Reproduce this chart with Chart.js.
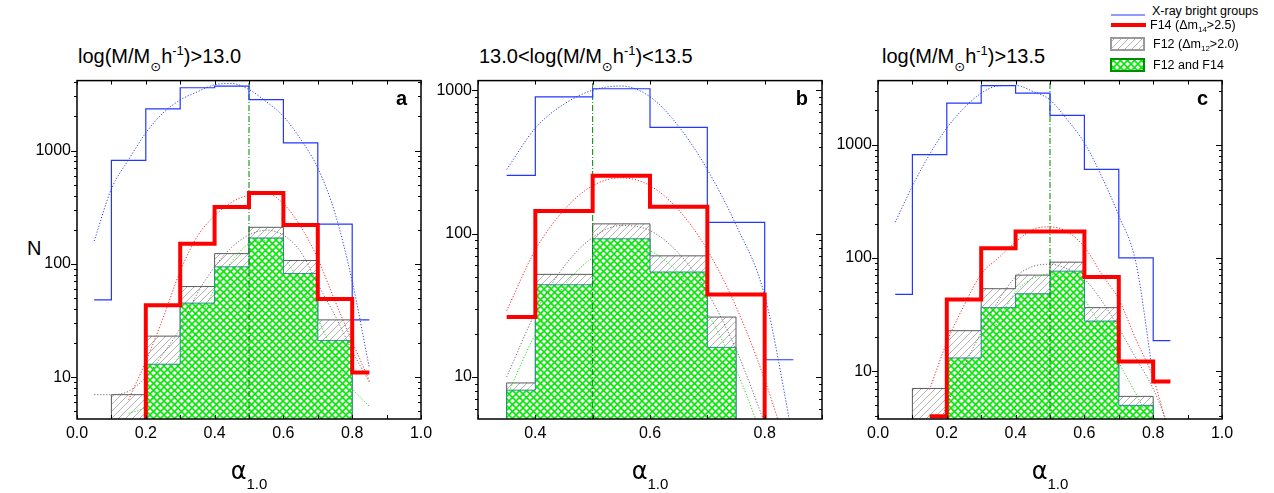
<!DOCTYPE html>
<html>
<head>
<meta charset="utf-8">
<script src="https://cdn.jsdelivr.net/npm/chart.js@4.4.1/dist/chart.umd.min.js"></script>
<style>
  body { margin: 0; width: 1274px; height: 493px; background: #fff; position: relative; overflow: hidden;
         font-family: "Liberation Sans", Arial, sans-serif; color: #000; }
  .panel { position: absolute; top: 65px; }
  .title { position: absolute; top: 46px; font-size: 20px; line-height: 20px; white-space: nowrap; }
  .title .sun { font-family: "DejaVu Sans", sans-serif; font-size: 13px; vertical-align: -8px; line-height: 0; }
  .title sup { font-size: 13px; vertical-align: 8px; line-height: 0; }
  .xlab { position: absolute; top: 458px; width: 344px; text-align: center; white-space: nowrap; line-height: 26px; }
  .xlab .al { font-family: "DejaVu Sans", sans-serif; font-size: 24px; }
  .xlab sub { font-size: 15px; vertical-align: -10px; line-height: 0; }
  .ylab { position: absolute; left: 27px; top: 236px; font-size: 20px; line-height: 24px; }
  .legend { position: absolute; left: 1110px; top: 0; font-size: 12.5px; }
  .legend .row { position: absolute; left: 0; height: 16px; white-space: nowrap; }
  .legend canvas { position: absolute; left: 0; }
  .legend span.t { position: absolute; line-height: 16px; }
  .legend sub { font-size: 8px; vertical-align: -3px; line-height: 0; }
</style>
</head>
<body>

<div class="title" style="left:78px">log(M/M<span class="sun">&#8857;</span>h<sup>-1</sup>)&gt;13.0</div>
<div class="title" style="left:479px">13.0&lt;log(M/M<span class="sun">&#8857;</span>h<sup>-1</sup>)&lt;13.5</div>
<div class="title" style="left:882px">log(M/M<span class="sun">&#8857;</span>h<sup>-1</sup>)&gt;13.5</div>

<div class="ylab">N</div>

<canvas id="panelA" class="panel" style="left:17px" width="424" height="394"></canvas>
<canvas id="panelB" class="panel" style="left:418px" width="424" height="394"></canvas>
<canvas id="panelC" class="panel" style="left:818px" width="424" height="394"></canvas>

<div class="xlab" style="left:77px"><span class="al">&alpha;</span><sub>1.0</sub></div>
<div class="xlab" style="left:478px"><span class="al">&alpha;</span><sub>1.0</sub></div>
<div class="xlab" style="left:878px"><span class="al">&alpha;</span><sub>1.0</sub></div>

<div class="legend">
  <div class="row" style="top:3px"><canvas id="swXray" width="36" height="16"></canvas><span class="t" style="left:42px">X-ray bright groups</span></div>
  <div class="row" style="top:17px"><canvas id="swF14" width="36" height="16"></canvas><span class="t" style="left:40px">F14 (&Delta;m<sub>14</sub>&gt;2.5)</span></div>
  <div class="row" style="top:36px"><canvas id="swF12" width="36" height="16"></canvas><span class="t" style="left:43px">F12 (&Delta;m<sub>12</sub>&gt;2.0)</span></div>
  <div class="row" style="top:57px"><canvas id="swBoth" width="36" height="16"></canvas><span class="t" style="left:43px">F12 and F14</span></div>
</div>

<script>
// bin centres (alpha_1.0); panels a and c share the full range
const binsAC = [0.05, 0.15, 0.25, 0.35, 0.45, 0.55, 0.65, 0.75, 0.85];
const binsB = [0.35, 0.45, 0.55, 0.65, 0.75, 0.85];

// counts per bin (1 = count below the plotted range, null = no bin)
const xrayA = [48, 818, 2330, 3580, 3700, 2810, 1167, 224, 32];
const f14A  = [null, 3, 43, 150, 317, 422, 220, 49, 11];
const f12A  = [1, 7, 23, 63, 123, 210, 107, 32, 1];
const bothA = [null, 1, 13, 45, 94, 169, 82, 21, 1];

const xrayB = [255, 900, 1024, 550, 120, 13.2];
const f14B  = [26.2, 144, 253, 154, 37.6, 1];
const f12B  = [9.1, 52, 117, 70, 26.2, null];
const bothB = [8.1, 44, 92, 54, 16.1, null];

const xrayC = [47.7, 817, 2320, 3320, 2840, 1811, 604, 100, 18.6];
const f14C  = [null, 4.0, 42.9, 122, 171, 171, 67.8, 12.2, 8.1];
const f12C  = [1, 7.05, 22.8, 53.5, 70.5, 91.7, 36.4, 6.0, 1];
const bothC = [null, 1, 13.1, 36.4, 48.3, 76.4, 27.7, 5.0, 1];

// fitted curves, sampled every 0.05
const fitXAC = [0.05, 0.10, 0.15, 0.20, 0.25, 0.30, 0.35, 0.40, 0.45, 0.50, 0.55, 0.60, 0.65, 0.70, 0.75, 0.80, 0.85];
const fitXB = [0.35, 0.40, 0.45, 0.50, 0.55, 0.60, 0.65, 0.70, 0.75, 0.80, 0.85];

const fitXrayA = [159, 458, 830, 1430, 2140, 2790, 3300, 3800, 3900, 3450, 2700, 2000, 1260, 700, 280, 70, 12];
const fitF14A  = [null, null, 6.3, 13.8, 33, 86, 175, 265, 350, 405, 420, 339, 214, 111, 47, 20.6, 9.3];
const fitF12A  = [7, 7, 7.5, 10, 16, 27, 55, 94, 140, 180, 198, 179, 128, 66, 35, 17, 9];
const fitBothA = [null, null, 4.8, 5.5, 9, 16, 30, 60, 105, 150, 160, 115, 66, 33, 15, 8, 5.5];

const fitXrayB = [280, 545, 800, 1000, 1070, 900, 560, 280, 115, 37, 3.6];
const fitF14B  = [29, 77, 146, 216, 245, 216, 146, 77, 31, 9.6, 2.3];
const fitF12B  = [10, 28, 59, 94, 114, 105, 73, 39, 15.6, 4.8, null];
const fitBothB = [7.3, 20, 43, 68, 83, 76, 53, 28, 11.3, 3.5, null];

const fitXrayC = [206, 431, 820, 1400, 2100, 2840, 3300, 3330, 2950, 2480, 1660, 1035, 525, 236, 90, 9, null];
const fitF14C  = [null, null, 6.9, 18, 38, 72, 100, 138, 178, 188, 170, 125, 72, 43, 19, 8.7, 2.5];
const fitF12C  = [null, null, 2, 5, 11, 22, 42, 68, 84, 88, 80, 65, 42, 24, 13, 7, 3];
const fitBothC = [null, null, null, 3.6, 7, 14, 28, 50, 66, 72, 64, 43, 24, 12, 6.3, 3.2, null];

// axis ranges and labelled ticks
const xRangeAC = [0, 1];
const xRangeB = [0.3, 0.9];
const xTicksAC = [0, 0.2, 0.4, 0.6, 0.8, 1.0];
const xTicksB = [0.4, 0.6, 0.8];
const yRangeA = [4.27, 4140];
const yRangeB = [5.1, 1167];
const yRangeC = [3.79, 3670];
const yTicks = [10, 100, 1000];
const refAlpha = 0.5;

const FLOOR = 0.1;
const FONT = '"Liberation Sans", Arial, sans-serif';
Chart.defaults.font.family = FONT;
Chart.defaults.color = '#000';

const hatch = (size, color, width, cross) => {
  const c = document.createElement('canvas');
  c.width = c.height = size;
  const g = c.getContext('2d');
  g.fillStyle = '#fff';
  g.fillRect(0, 0, size, size);
  g.strokeStyle = color;
  g.lineWidth = width;
  const seg = (x0, y0, x1, y1) => { g.beginPath(); g.moveTo(x0, y0); g.lineTo(x1, y1); g.stroke(); };
  for (const o of [-size, 0, size]) {
    seg(o, size, o + size, 0);
    if (cross) seg(o, 0, o + size, size);
  }
  return g.createPattern(c, 'repeat');
};

const grayHatch = hatch(7, '#b5b5b5', 1, false);
const greenHatch = hatch(7, 'rgb(10,232,10)', 1.6, true);

const toPoints = (xs, ys) => xs.map((x, i) => ({ x, y: ys[i] })).filter(p => p.y !== null);

// filled histograms get closed down to the axis at both ends
const closedPoints = (xs, ys) => {
  const pts = toPoints(xs, ys);
  return [{ x: pts[0].x, y: FLOOR }, ...pts, { x: pts[pts.length - 1].x, y: FLOOR }];
};

const frameTicks = {
  id: 'frameTicks',
  afterDatasetsDraw(chart) {
    const { ctx, chartArea: a, scales: { x, y } } = chart;
    const seg = (x0, y0, x1, y1) => { ctx.beginPath(); ctx.moveTo(x0, y0); ctx.lineTo(x1, y1); ctx.stroke(); };
    ctx.save();
    ctx.strokeStyle = '#000';
    ctx.lineWidth = 1;
    for (let i = Math.ceil(x.min * 10 - 1e-6); i <= Math.floor(x.max * 10 + 1e-6); i++) {
      const px = Math.round(x.getPixelForValue(i / 10)) + 0.5;
      seg(px, a.bottom, px, a.bottom - 4);
      seg(px, a.top, px, a.top + 4);
    }
    for (let d = Math.floor(Math.log10(y.min)); d <= Math.ceil(Math.log10(y.max)); d++) {
      for (let m = 1; m < 10; m++) {
        const v = m * Math.pow(10, d);
        if (v < y.min || v > y.max) continue;
        const py = Math.round(y.getPixelForValue(v)) + 0.5;
        const len = m === 1 ? 6 : 3;
        seg(a.left - len, py, a.left, py);
        seg(a.right, py, a.right - len, py);
      }
    }
    ctx.lineWidth = 1.5;
    ctx.strokeRect(a.left, a.top, a.right - a.left, a.bottom - a.top);
    ctx.restore();
  }
};

const stepLine = (data, color, width, order) => ({
  data, order, borderColor: color, borderWidth: width, stepped: 'middle',
  pointRadius: 0, fill: false, clip: 0
});

const stepFill = (data, edge, pattern, order) => ({
  data, order, borderColor: edge, borderWidth: 1, stepped: 'middle',
  backgroundColor: pattern, fill: 'start', pointRadius: 0, clip: 0
});

const fitLine = (data, color) => ({
  data, order: 5, borderColor: color, borderWidth: 1, borderDash: [1.2, 1.8],
  cubicInterpolationMode: 'monotone', pointRadius: 0, fill: false, clip: 0
});

function drawPanel(id, cfg) {
  const [yMin, yMax] = cfg.yRange;
  new Chart(document.getElementById(id), {
    type: 'line',
    data: {
      datasets: [
        stepFill(closedPoints(cfg.bins, cfg.f12), '#5a5a5a', grayHatch, 7),
        stepFill(closedPoints(cfg.bins, cfg.both), 'rgb(40,140,140)', greenHatch, 6),
        fitLine(toPoints(cfg.fitX, cfg.fitF12), 'rgb(110,110,110)'),
        fitLine(toPoints(cfg.fitX, cfg.fitBoth), 'rgb(30,220,30)'),
        fitLine(toPoints(cfg.fitX, cfg.fitF14), 'rgb(255,40,40)'),
        fitLine(toPoints(cfg.fitX, cfg.fitXray), 'rgb(40,60,255)'),
        {
          data: [{ x: refAlpha, y: yMin }, { x: refAlpha, y: yMax }], order: 4,
          borderColor: 'rgb(0,128,0)', borderWidth: 1, borderDash: [6, 2, 1, 2],
          pointRadius: 0, fill: false, clip: 0
        },
        stepLine(toPoints(cfg.bins, cfg.xray), 'rgb(35,55,255)', 1.2, 2),
        stepLine(toPoints(cfg.bins, cfg.f14), '#ff0000', 4, 1)
      ]
    },
    options: {
      responsive: false,
      animation: false,
      layout: { padding: { top: 12, right: 20, left: 0, bottom: 0 } },
      plugins: { legend: { display: false }, tooltip: { enabled: false } },
      scales: {
        x: {
          type: 'linear', min: cfg.xRange[0], max: cfg.xRange[1],
          grid: { display: false, drawTicks: false }, border: { display: false },
          afterBuildTicks: s => { s.ticks = cfg.xTicks.map(v => ({ value: v })); },
          afterFit: s => { s.height = 40; },
          ticks: { autoSkip: false, maxRotation: 0, padding: 5, font: { size: 16 }, callback: v => v.toFixed(1) }
        },
        y: {
          type: 'logarithmic', min: yMin, max: yMax,
          grid: { display: false, drawTicks: false }, border: { display: false },
          afterBuildTicks: s => { s.ticks = yTicks.map(v => ({ value: v })); },
          afterFit: s => { s.width = 60; },
          ticks: { autoSkip: false, padding: 6, font: { size: 16 }, callback: v => String(v) }
        }
      }
    },
    plugins: [frameTicks]
  });
}

drawPanel('panelA', {
  bins: binsAC, xray: xrayA, f14: f14A, f12: f12A, both: bothA,
  fitX: fitXAC, fitXray: fitXrayA, fitF14: fitF14A, fitF12: fitF12A, fitBoth: fitBothA,
  xRange: xRangeAC, xTicks: xTicksAC, yRange: yRangeA
});
drawPanel('panelB', {
  bins: binsB, xray: xrayB, f14: f14B, f12: f12B, both: bothB,
  fitX: fitXB, fitXray: fitXrayB, fitF14: fitF14B, fitF12: fitF12B, fitBoth: fitBothB,
  xRange: xRangeB, xTicks: xTicksB, yRange: yRangeB
});
drawPanel('panelC', {
  bins: binsAC, xray: xrayC, f14: f14C, f12: f12C, both: bothC,
  fitX: fitXAC, fitXray: fitXrayC, fitF14: fitF14C, fitF12: fitF12C, fitBoth: fitBothC,
  xRange: xRangeAC, xTicks: xTicksAC, yRange: yRangeC
});

// panel letters
[['panelA', 'a'], ['panelB', 'b'], ['panelC', 'c']].forEach(([id, letter]) => {
  const chart = Chart.getChart(id);
  const g = chart.ctx;
  g.save();
  g.font = 'bold 20px ' + FONT;
  g.textAlign = 'right';
  g.textBaseline = 'alphabetic';
  g.fillText(letter, chart.chartArea.right - 14, chart.chartArea.top + 24);
  g.restore();
});

// legend swatches
const swatch = (id, draw) => {
  const g = document.getElementById(id).getContext('2d');
  draw(g);
};
swatch('swXray', g => { g.strokeStyle = 'rgb(35,55,255)'; g.lineWidth = 1.2; g.beginPath(); g.moveTo(1, 12); g.lineTo(35, 12); g.stroke(); });
swatch('swF14', g => { g.strokeStyle = '#ff0000'; g.lineWidth = 4; g.beginPath(); g.moveTo(1, 8); g.lineTo(36, 8); g.stroke(); });
swatch('swF12', g => {
  g.fillStyle = grayHatch; g.fillRect(1, 2, 33, 12);
  g.strokeStyle = '#9a9a9a'; g.lineWidth = 2; g.strokeRect(1, 2, 33, 12);
});
swatch('swBoth', g => {
  g.fillStyle = greenHatch; g.fillRect(1, 2, 33, 12);
  g.strokeStyle = 'rgb(0,140,0)'; g.lineWidth = 2; g.strokeRect(1, 2, 33, 12);
});
</script>
</body>
</html>
